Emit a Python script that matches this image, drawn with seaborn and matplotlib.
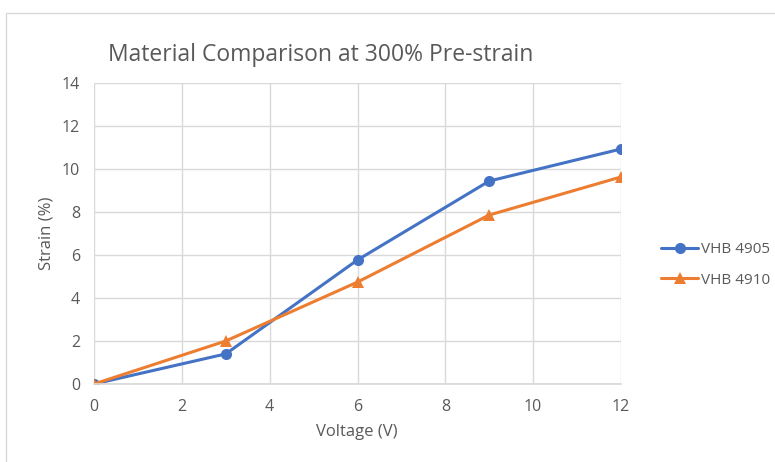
import matplotlib
matplotlib.use("Agg")
import matplotlib.pyplot as plt
from matplotlib.patches import Rectangle
import seaborn as sns
import pandas as pd

voltage = [0, 3, 6, 9, 12]
strain_4905 = [0.0, 1.40, 5.77, 9.44, 10.93]
strain_4910 = [0.0, 2.00, 4.74, 7.86, 9.63]
series_names = ["VHB 4905", "VHB 4910"]
x_ticks = [0, 2, 4, 6, 8, 10, 12]
y_ticks = [0, 2, 4, 6, 8, 10, 12, 14]

df = pd.DataFrame({
    "Voltage": voltage * 2,
    "Strain": strain_4905 + strain_4910,
    "Material": [series_names[0]] * len(voltage) + [series_names[1]] * len(voltage),
})

sns.set_theme(style="white")
plt.rcParams["font.family"] = ["Open Sans", "DejaVu Sans"]

W, H = 775, 462
fig = plt.figure(figsize=(W / 100, H / 100), dpi=100)
ax = fig.add_axes([94 / W, 1 - 384 / H, (621 - 94) / W, (384 - 83) / H])

# chart area outline
fig.patches.append(Rectangle((6 / W, -0.05), 1.1, 1 - 13 / H + 0.05,
                             transform=fig.transFigure, fill=False,
                             edgecolor="#d9d9d9", linewidth=1.0))

palette = {series_names[0]: "#4472C4", series_names[1]: "#ED7D31"}
sns.lineplot(data=df, x="Voltage", y="Strain", hue="Material", style="Material",
             markers={series_names[0]: "o", series_names[1]: "^"}, dashes=False,
             palette=palette, linewidth=2.2, markersize=8, markeredgewidth=0,
             ax=ax, legend=True)

ax.set_xlim(0, 12)
ax.set_ylim(0, 14)
ax.set_xticks(x_ticks)
ax.set_yticks(y_ticks)
ax.grid(True, color="#d9d9d9", linewidth=1.0)
ax.set_axisbelow(True)
for s in ["top", "right", "left"]:
    ax.spines[s].set_visible(False)
ax.spines["bottom"].set_color("#d9d9d9")
ax.tick_params(axis="both", colors="#595959", labelsize=11.5, length=0)
ax.tick_params(axis="y", pad=10)
ax.tick_params(axis="x", pad=11)
for lbl in ax.get_xticklabels() + ax.get_yticklabels():
    lbl.set_color("#595959")

ax.set_xlabel("Voltage (V)", color="#595959", fontsize=12)
ax.set_ylabel("Strain (%)", color="#595959", fontsize=12)
ax.xaxis.set_label_coords((357 - 94) / (621 - 94), -(432 - 384) / (384 - 83))
ax.yaxis.set_label_coords(-(94 - 47) / (621 - 94), (384 - 233) / (384 - 83))
ax.xaxis.label.set_va("center")
ax.yaxis.label.set_va("center")

fig.text(108 / W, 1 - 55 / H, "Material Comparison at 300% Pre-strain",
         fontsize=16.5, color="#595959", ha="left", va="center")

leg = ax.legend(loc="center left", bbox_to_anchor=(1.065, 0.395), frameon=False,
                fontsize=11, labelcolor="#595959", handlelength=2.4,
                labelspacing=1.0, handletextpad=0.2, borderaxespad=0)

fig.savefig("out.png", dpi=100, facecolor="white")
